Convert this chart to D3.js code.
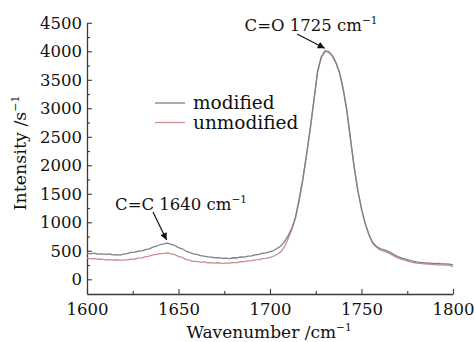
<!DOCTYPE html>
<html>
<head>
<meta charset="utf-8">
<script src="https://cdn.jsdelivr.net/npm/d3@7"></script>
<style>
  html, body { margin: 0; padding: 0; background: #fff; }
  svg { display: block; }
  text { font-family: "DejaVu Serif", "Liberation Serif", serif; fill: #111; }
</style>
</head>
<body>
<svg id="chart" width="474" height="342"></svg>
<script>
// ---- data ----
const wavenumbers = [1600,1602,1604,1606,1608,1610,1612,1614,1616,1618,1620,1622,1624,1626,1628,1630,1632,1634,1636,1638,1640,1642,1644,1646,1648,1650,1652,1654,1656,1658,1660,1662,1664,1666,1668,1670,1672,1674,1676,1678,1680,1682,1684,1686,1688,1690,1692,1694,1696,1698,1700,1702,1704,1706,1708,1710,1712,1714,1716,1718,1720,1722,1724,1726,1728,1730,1732,1734,1736,1738,1740,1742,1744,1746,1748,1750,1752,1754,1756,1758,1760,1762,1764,1766,1768,1770,1772,1774,1776,1778,1780,1782,1784,1786,1788,1790,1792,1794,1796,1798,1800];
const modified = [460,445,458,440,446,438,445,428,432,424,440,450,472,478,492,498,522,535,565,580,610,620,636,612,594,556,535,496,474,446,438,416,408,392,388,376,380,366,370,362,378,374,392,390,408,412,428,436,458,462,484,505,545,585,660,770,900,1100,1420,1780,2200,2650,3150,3650,3900,4010,3985,3920,3800,3620,3330,2950,2450,1960,1550,1230,980,790,650,585,540,522,498,468,428,398,372,355,336,320,306,298,294,285,284,276,279,270,272,266,252];
const unmodified = [370,360,364,352,354,342,346,336,343,332,342,340,352,356,372,376,398,405,428,436,452,455,462,446,434,402,384,350,338,316,314,300,306,290,294,284,290,278,284,286,298,294,308,310,322,326,342,346,362,366,385,405,440,485,575,715,880,1080,1380,1750,2180,2630,3130,3630,3890,3990,4000,3930,3810,3630,3350,2970,2470,1980,1570,1240,985,790,640,565,520,495,472,440,402,372,350,332,312,298,286,280,272,268,260,258,254,252,248,246,222];
const xTicks = [1600,1650,1700,1750,1800];
const xMinorTicks = [1625,1675,1725,1775];
const yTicks = [0,500,1000,1500,2000,2500,3000,3500,4000,4500];
const yMinorTicks = [250,750,1250,1750,2250,2750,3250,3750,4250];
const seriesNames = ["modified","unmodified"];
const seriesColors = ["#7a808c","#cc8f8f"];
const annotations = [
  {label: "C=C 1640 cm", sup: "\u22121", x: 1643.5},
  {label: "C=O 1725 cm", sup: "\u22121", x: 1731}
];

// ---- layout ----
const svg = d3.select("#chart");
const x = d3.scaleLinear().domain([1600, 1800]).range([87, 453]);
const y = d3.scaleLinear().domain([-258, 4500]).range([294, 22.8]);

const axisColor = "#3a3a3a";

// x axis (ticks pointing inward)
svg.append("g").attr("transform", "translate(0,294)")
  .call(d3.axisBottom(x).tickValues(xTicks).tickSizeInner(-5).tickSizeOuter(0).tickPadding(9).tickFormat(d3.format("d")));
svg.append("g").attr("transform", "translate(0,294)")
  .call(d3.axisBottom(x).tickValues(xMinorTicks).tickSizeInner(-3).tickSizeOuter(0).tickFormat(""))
  .select(".domain").remove();

// y axis
svg.append("g").attr("transform", "translate(87,0)")
  .call(d3.axisLeft(y).tickValues(yTicks).tickSizeInner(-5).tickSizeOuter(0).tickPadding(5).tickFormat(d3.format("d")));
svg.append("g").attr("transform", "translate(87,0)")
  .call(d3.axisLeft(y).tickValues(yMinorTicks).tickSizeInner(-3).tickSizeOuter(0).tickFormat(""))
  .select(".domain").remove();

svg.selectAll(".domain").attr("stroke", axisColor).attr("stroke-width", 1.3);
svg.selectAll(".tick line").attr("stroke", axisColor).attr("stroke-width", 1.1);
svg.selectAll(".tick text").attr("font-size", 16.5).attr("font-family", "DejaVu Serif").attr("fill", "#111");

// curves
const line = d3.line().x((d, i) => x(wavenumbers[i])).y(d => y(d)).curve(d3.curveLinear);
const seriesData = [modified, unmodified];
// draw unmodified first, modified on top
[1, 0].forEach(k => {
  svg.append("path").datum(seriesData[k])
    .attr("fill", "none")
    .attr("stroke", seriesColors[k])
    .attr("stroke-width", 1.3)
    .attr("stroke-linejoin", "round")
    .attr("d", line);
});

// legend
const legend = svg.append("g");
seriesNames.forEach((name, i) => {
  const ly = 103 + i * 19.5;
  legend.append("line").attr("x1", 155).attr("x2", 185).attr("y1", ly).attr("y2", ly)
    .attr("stroke", seriesColors[i]).attr("stroke-width", 1.3);
  legend.append("text").attr("x", 193).attr("y", ly + 6).attr("font-size", 18.5).text(name);
});

// axis titles
const xt = svg.append("text").attr("x", 269).attr("y", 338).attr("text-anchor", "middle").attr("font-size", 17);
xt.append("tspan").text("Wavenumber /cm");
xt.append("tspan").attr("font-size", 10.5).attr("dy", -7).text("\u22121");

const yt = svg.append("text").attr("transform", "translate(26,153) rotate(-90)").attr("text-anchor", "middle").attr("font-size", 17.5);
yt.append("tspan").text("Intensity /s");
yt.append("tspan").attr("font-size", 11).attr("dy", -7).text("\u22121");

// annotations with arrows
svg.append("defs").append("marker")
  .attr("id", "arrow").attr("viewBox", "0 0 10 10").attr("refX", 10).attr("refY", 5)
  .attr("markerWidth", 9).attr("markerHeight", 7).attr("markerUnits", "userSpaceOnUse").attr("orient", "auto")
  .append("path").attr("d", "M0,0 L10,5 L0,10 Z").attr("fill", "#111");

const annPos = [
  {tx: 181, ty: 210, ax1: 153, ay1: 212, ax2: x(annotations[0].x), ay2: y(modified[22]) - 3},
  {tx: 311, ty: 31, ax1: 297, ay1: 34, ax2: x(annotations[1].x) - 2, ay2: y(4000) - 3}
];
annotations.forEach((a, i) => {
  const p = annPos[i];
  const t = svg.append("text").attr("x", p.tx).attr("y", p.ty).attr("text-anchor", "middle").attr("font-size", 16.5);
  t.append("tspan").text(a.label);
  t.append("tspan").attr("font-size", 10.5).attr("dy", -7).text(a.sup);
  svg.append("line").attr("x1", p.ax1).attr("y1", p.ay1).attr("x2", p.ax2).attr("y2", p.ay2)
    .attr("stroke", "#111").attr("stroke-width", 1.2).attr("marker-end", "url(#arrow)");
});
</script>
</body>
</html>
